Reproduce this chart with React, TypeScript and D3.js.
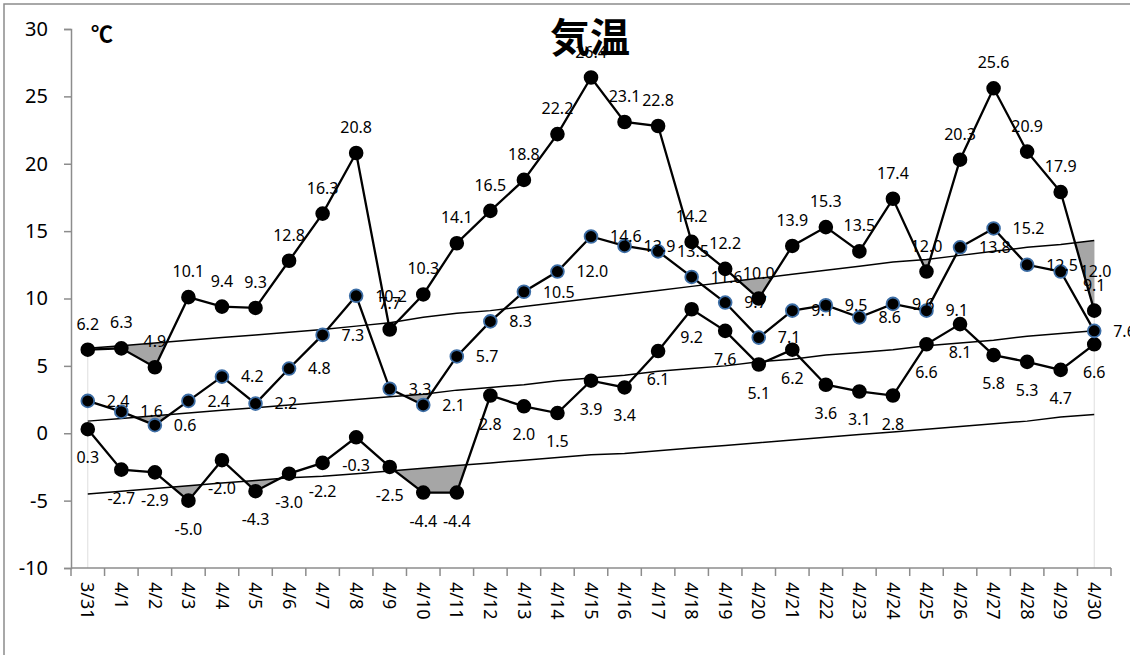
import { useEffect, useRef } from 'react';
import * as d3 from 'd3';

const DATES = [
  '3/31', '4/1', '4/2', '4/3', '4/4', '4/5', '4/6', '4/7', '4/8', '4/9', '4/10',
  '4/11', '4/12', '4/13', '4/14', '4/15', '4/16', '4/17', '4/18', '4/19', '4/20',
  '4/21', '4/22', '4/23', '4/24', '4/25', '4/26', '4/27', '4/28', '4/29', '4/30',
];

const MAX_TEMP = [
  6.2, 6.3, 4.9, 10.1, 9.4, 9.3, 12.8, 16.3, 20.8, 7.7, 10.3,
  14.1, 16.5, 18.8, 22.2, 26.4, 23.1, 22.8, 14.2, 12.2, 10.0,
  13.9, 15.3, 13.5, 17.4, 12.0, 20.3, 25.6, 20.9, 17.9, 9.1,
];

const MEAN_TEMP = [
  2.4, 1.6, 0.6, 2.4, 4.2, 2.2, 4.8, 7.3, 10.2, 3.3, 2.1,
  5.7, 8.3, 10.5, 12.0, 14.6, 13.9, 13.5, 11.6, 9.7, 7.1,
  9.1, 9.5, 8.6, 9.6, 9.1, 13.8, 15.2, 12.5, 12.0, 7.6,
];

const MIN_TEMP = [
  0.3, -2.7, -2.9, -5.0, -2.0, -4.3, -3.0, -2.2, -0.3, -2.5, -4.4,
  -4.4, 2.8, 2.0, 1.5, 3.9, 3.4, 6.1, 9.2, 7.6, 5.1,
  6.2, 3.6, 3.1, 2.8, 6.6, 8.1, 5.8, 5.3, 4.7, 6.6,
];

// 平年値
const NORMAL_MAX = [
  6.3, 6.5, 6.7, 6.9, 7.1, 7.3, 7.5, 7.7, 7.95, 8.2, 8.6,
  8.9, 9.1, 9.4, 9.7, 10.0, 10.3, 10.6, 10.9, 11.2, 11.5,
  11.8, 12.1, 12.4, 12.7, 12.9, 13.2, 13.5, 13.8, 14.0, 14.3,
];

const NORMAL_MEAN = [
  0.9, 1.1, 1.3, 1.5, 1.7, 1.9, 2.1, 2.3, 2.5, 2.7, 2.9,
  3.2, 3.4, 3.6, 3.9, 4.1, 4.3, 4.6, 4.8, 5.0, 5.3,
  5.5, 5.8, 6.0, 6.2, 6.5, 6.7, 6.9, 7.2, 7.4, 7.6,
];

const NORMAL_MIN = [
  -4.5, -4.3, -4.1, -3.9, -3.7, -3.5, -3.3, -3.2, -3.0, -2.8, -2.6,
  -2.4, -2.2, -2.0, -1.8, -1.6, -1.5, -1.3, -1.1, -0.9, -0.7,
  -0.5, -0.3, -0.1, 0.1, 0.3, 0.5, 0.7, 0.9, 1.2, 1.4,
];

const Y_TICKS = [-10, -5, 0, 5, 10, 15, 20, 25, 30];

const WIDTH = 1130;
const HEIGHT = 655;
const FONT = '"Noto Sans", sans-serif';

interface Pt { t: number; o: number; n: number }

// observed vs normal, with crossing points added so the shaded part is exact
function withCrossings(obs: number[], norm: number[]): Pt[] {
  const pts: Pt[] = [];
  for (let i = 0; i < obs.length; i++) {
    pts.push({ t: i, o: obs[i], n: norm[i] });
    if (i < obs.length - 1) {
      const d0 = obs[i] - norm[i];
      const d1 = obs[i + 1] - norm[i + 1];
      if (d0 * d1 < 0) {
        const f = d0 / (d0 - d1);
        pts.push({
          t: i + f,
          o: obs[i] + f * (obs[i + 1] - obs[i]),
          n: norm[i] + f * (norm[i + 1] - norm[i]),
        });
      }
    }
  }
  return pts;
}

export default function App() {
  const svgRef = useRef<SVGSVGElement>(null);

  useEffect(() => {
    if (!svgRef.current) return;
    const svg = d3.select(svgRef.current);
    svg.selectAll('*').remove();

    const x = d3.scaleBand<string>().domain(DATES).range([71, 1111]);
    const y = d3.scaleLinear().domain([-10, 30]).range([568, 29]);
    const cx = (i: number) => (x(DATES[0]) as number) + x.bandwidth() / 2 + i * x.step();

    // chart frame
    svg.append('rect')
      .attr('x', 4).attr('y', 4)
      .attr('width', 1140).attr('height', 700)
      .attr('fill', 'white')
      .attr('stroke', '#8c8c8c').attr('stroke-width', 1.5);

    // faint edges at first/last day
    [0, DATES.length - 1].forEach(i => {
      svg.append('line')
        .attr('x1', cx(i)).attr('x2', cx(i))
        .attr('y1', y(NORMAL_MAX[i])).attr('y2', y(-10))
        .attr('stroke', '#dedede').attr('stroke-width', 1);
    });

    // shaded deficit below normal
    const area = d3.area<Pt>()
      .x(p => cx(p.t))
      .y0(p => y(p.n))
      .y1(p => y(Math.min(p.o, p.n)));
    [[MAX_TEMP, NORMAL_MAX], [MEAN_TEMP, NORMAL_MEAN], [MIN_TEMP, NORMAL_MIN]].forEach(([obs, norm]) => {
      svg.append('path')
        .attr('d', area(withCrossings(obs, norm)) as string)
        .attr('fill', '#a6a6a6');
    });

    // axes
    const yAxis = svg.append('g').attr('transform', 'translate(71,0)')
      .call(d3.axisLeft(y).tickValues(Y_TICKS).tickSize(7).tickPadding(16).tickFormat(d => String(d)));
    yAxis.select('.domain').attr('stroke', '#8c8c8c').attr('stroke-width', 1.5);
    yAxis.selectAll('.tick line').attr('stroke', '#8c8c8c').attr('stroke-width', 1.5);
    yAxis.selectAll('.tick text')
      .attr('fill', '#000').attr('font-size', 20).attr('font-family', FONT);

    const xg = svg.append('g');
    xg.append('line')
      .attr('x1', 71).attr('x2', 1111).attr('y1', y(-10)).attr('y2', y(-10))
      .attr('stroke', '#8c8c8c').attr('stroke-width', 1.5);
    xg.selectAll('line.tick')
      .data(d3.range(DATES.length + 1))
      .join('line')
      .attr('class', 'tick')
      .attr('x1', i => 71 + i * x.step()).attr('x2', i => 71 + i * x.step())
      .attr('y1', y(-10)).attr('y2', y(-10) + 8)
      .attr('stroke', '#8c8c8c').attr('stroke-width', 1.5);
    xg.selectAll('text')
      .data(DATES)
      .join('text')
      .attr('transform', (_, i) => `translate(${cx(i)},582) rotate(90)`)
      .attr('dy', '0.35em')
      .attr('font-size', 18).attr('font-family', FONT)
      .text(d => d);

    // normal lines
    const line = d3.line<number>().x((_, i) => cx(i)).y(v => y(v));
    [NORMAL_MAX, NORMAL_MEAN, NORMAL_MIN].forEach(s => {
      svg.append('path').attr('d', line(s) as string)
        .attr('fill', 'none').attr('stroke', '#000').attr('stroke-width', 1.5);
    });

    // observed series
    const series = [
      { data: MAX_TEMP, stroke: '#000' },
      { data: MIN_TEMP, stroke: '#000' },
      { data: MEAN_TEMP, stroke: '#3d6ea6' },
    ];
    series.forEach(s => {
      svg.append('path').attr('d', line(s.data) as string)
        .attr('fill', 'none').attr('stroke', '#000').attr('stroke-width', 2.3);
    });
    series.forEach(s => {
      svg.append('g').selectAll('circle')
        .data(s.data)
        .join('circle')
        .attr('cx', (_, i) => cx(i)).attr('cy', v => y(v))
        .attr('r', 6.4)
        .attr('fill', '#000')
        .attr('stroke', s.stroke).attr('stroke-width', 1.8);
    });

    // data labels
    const fmt = (v: number) => v.toFixed(1);
    const labels = svg.append('g').attr('font-size', 16).attr('font-family', FONT).attr('fill', '#000');
    labels.selectAll('text.max')
      .data(MAX_TEMP).join('text').attr('class', 'max')
      .attr('x', (_, i) => cx(i)).attr('y', v => y(v) - 20)
      .attr('text-anchor', 'middle')
      .text(v => fmt(v));
    labels.selectAll('text.mean')
      .data(MEAN_TEMP).join('text').attr('class', 'mean')
      .attr('x', (_, i) => cx(i) + 19).attr('y', v => y(v)).attr('dy', '0.36em')
      .text(v => fmt(v));
    labels.selectAll('text.min')
      .data(MIN_TEMP).join('text').attr('class', 'min')
      .attr('x', (_, i) => cx(i)).attr('y', v => y(v) + 34)
      .attr('text-anchor', 'middle')
      .text(v => fmt(v));

    // title and unit
    svg.append('text')
      .attr('x', 590).attr('y', 52)
      .attr('text-anchor', 'middle')
      .attr('font-family', '"Noto Sans CJK JP", sans-serif')
      .attr('font-weight', 'bold').attr('font-size', 40)
      .text('気温');
    svg.append('text')
      .attr('x', 91).attr('y', 42)
      .attr('font-family', '"Noto Sans CJK JP", sans-serif')
      .attr('font-weight', 'bold').attr('font-size', 22)
      .text('℃');
  }, []);

  return (
    <svg
      ref={svgRef}
      width={WIDTH}
      height={HEIGHT}
      style={{ position: 'absolute', left: 0, top: 0, background: '#fff' }}
    />
  );
}
